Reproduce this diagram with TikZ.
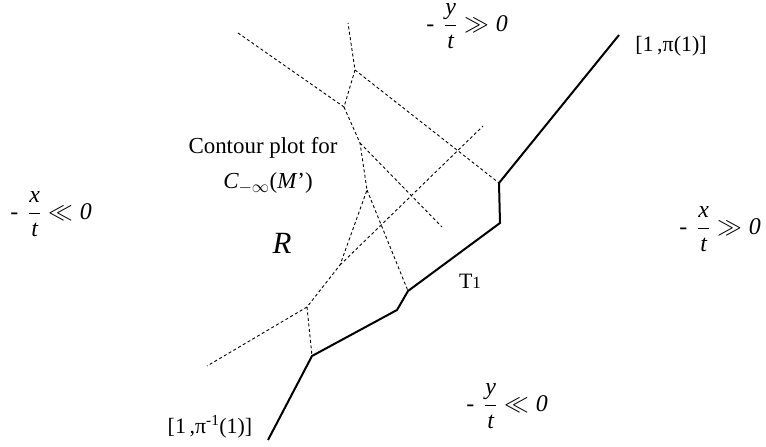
\documentclass[tikz,border=0pt]{standalone}
\usepackage{fontspec}
\usepackage{amsmath}
\setmainfont{Liberation Serif}
\begin{document}
\begin{tikzpicture}[x=1bp,y=-1bp,
  contour/.style={line width=0.9bp,dash pattern=on 3bp off 2.5bp},
  tline/.style={line width=2bp,line join=miter},
  lbl/.style={inner sep=0pt,font=\fontsize{23}{27}\selectfont},
  frlbl/.style={inner sep=0pt,font=\fontsize{24}{28}\selectfont}]
\useasboundingbox (0,0) rectangle (766,447);
% solid tropical line
\coordinate (s0) at (268,440);
\coordinate (s1) at (312,356);
\coordinate (s2) at (397,310);
\coordinate (s3) at (408,291);
\coordinate (s4) at (500,223);
\coordinate (s5) at (499,183);
\coordinate (s6) at (619,35);
\draw[tline] (s0) -- (s1) -- (s2) -- (s3) -- (s4) -- (s5) -- (s6);
% contour plot
\coordinate (a1) at (238,33);
\coordinate (a2) at (348,23);
\coordinate (v1) at (344,107);
\coordinate (v2) at (355,70);
\coordinate (v3) at (360,143);
\coordinate (v5) at (367,190);
\coordinate (v6) at (340,265);
\coordinate (v4) at (307,307);
\coordinate (e1) at (442,227);
\coordinate (e2) at (483,126);
\coordinate (e3) at (207,366);
\draw[contour] (a1) -- (v1) -- (v2) -- (a2);
\draw[contour] (v2) -- (s5);
\draw[contour] (v1) -- (v3) -- (v5) -- (v6) -- (v4) -- (e3);
\draw[contour] (v3) -- (e1);
\draw[contour] (v5) -- (s3);
\draw[contour] (v6) -- (e2);
\draw[contour] (v4) -- (s1);
% labels
\node[frlbl] (ytop) at (467,26) {- \,$\dfrac{\textit{y}}{\textit{t}} \gg \textit{0}$};
\node[frlbl] (xleft) at (51,214) {- \,$\dfrac{\textit{x}}{\textit{t}} \ll \textit{0}$};
\node[frlbl] (xright) at (720,229) {- \,$\dfrac{\textit{x}}{\textit{t}} \gg \textit{0}$};
\node[frlbl] (ybot) at (507,406) {- \,$\dfrac{\textit{y}}{\textit{t}} \ll \textit{0}$};
\node[lbl,font=\fontsize{22}{26}\selectfont] (p1) at (671,46) {[1\,,π(1)]};
\node[lbl,font=\fontsize{22}{26}\selectfont] (p2) at (210,427) {[1\,,π\textsuperscript{-1}(1)]};
\node[lbl] (cp) at (263,148) {Contour plot for};
\node[lbl] (cm) at (268,183) {$\textit{C}_{-\infty}$(\textit{M}’)};
\node[lbl,font=\fontsize{31}{35}\selectfont\itshape] (R) at (282,243) {R};
\node[lbl,font=\fontsize{22}{26}\selectfont] (T1) at (470,281) {T{\fontsize{17}{20}\selectfont 1}};
\end{tikzpicture}
\end{document}
